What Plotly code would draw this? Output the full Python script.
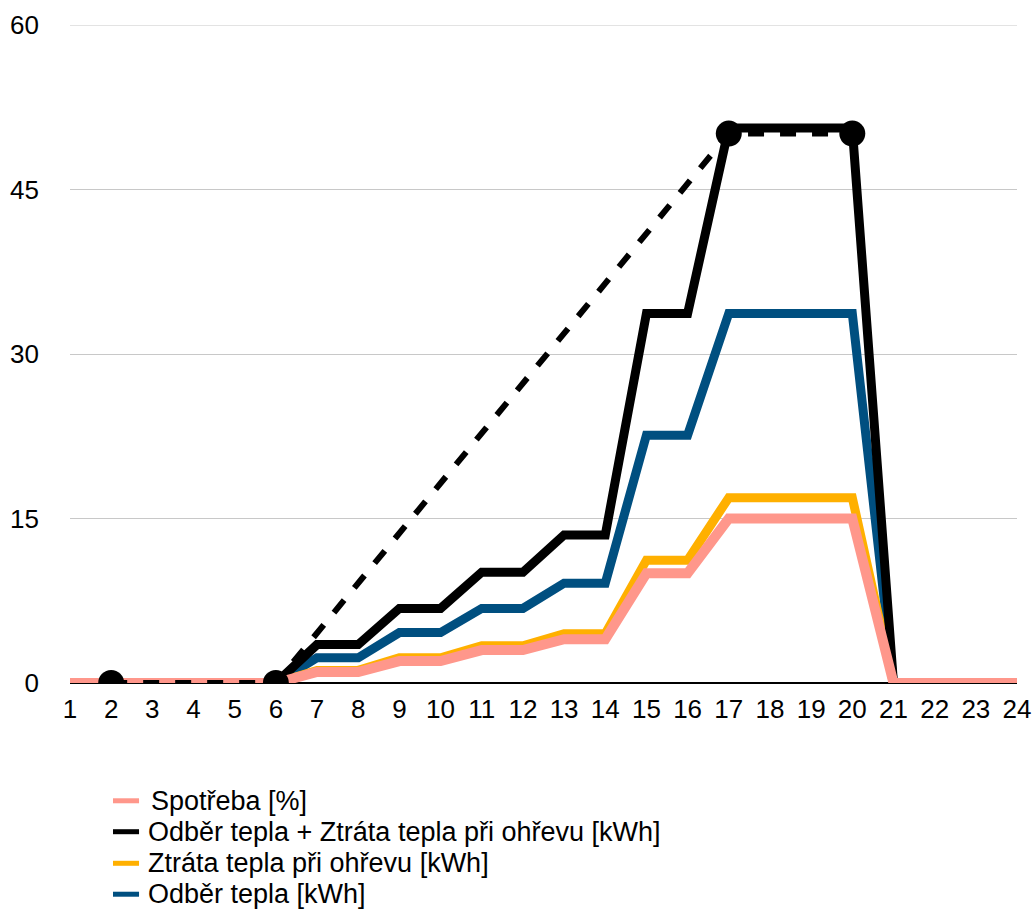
import plotly.graph_objects as go

hours = list(range(1, 25))
tick_labels = [str(h) for h in hours]

spotreba = [0, 0, 0, 0, 0, 0, 1, 1, 2, 2, 3, 3, 4, 4, 10, 10, 15, 15, 15, 15, 0, 0, 0, 0]
odber_plus_ztrata = [0, 0, 0, 0, 0, 0, 3.5, 3.5, 6.8, 6.8, 10.1, 10.1, 13.5, 13.5, 33.7, 33.7, 50.6, 50.6, 50.6, 50.6, 0, 0, 0, 0]
ztrata = [0, 0, 0, 0, 0, 0, 1.15, 1.15, 2.3, 2.3, 3.4, 3.4, 4.5, 4.5, 11.2, 11.2, 16.9, 16.9, 16.9, 16.9, 0, 0, 0, 0]
odber = [0, 0, 0, 0, 0, 0, 2.3, 2.3, 4.6, 4.6, 6.8, 6.8, 9.1, 9.1, 22.6, 22.6, 33.7, 33.7, 33.7, 33.7, 0, 0, 0, 0]

trend_x = [2, 6, 17, 20]
trend_y = [0, 0, 50.1, 50.1]

y_ticks = [0, 15, 30, 45, 60]

PINK = "#FF978B"
BLACK = "#000000"
ORANGE = "#FFB000"
BLUE = "#004F80"

series = [
    ("Odběr tepla [kWh]", odber, BLUE, 9),
    ("Ztráta tepla při ohřevu [kWh]", ztrata, ORANGE, 9),
    ("Odběr tepla + Ztráta tepla při ohřevu [kWh]", odber_plus_ztrata, BLACK, 9),
    ("Spotřeba [%]", spotreba, PINK, 10),
]
legend_order = ["Spotřeba [%]", "Odběr tepla + Ztráta tepla při ohřevu [kWh]",
                "Ztráta tepla při ohřevu [kWh]", "Odběr tepla [kWh]"]

fig = go.Figure()
for name, vals, color, w in series:
    fig.add_trace(go.Scatter(x=hours, y=vals, mode="lines", name=name, showlegend=False,
                             line=dict(color=color, width=w)))
fig.add_trace(go.Scatter(x=trend_x, y=trend_y, mode="lines+markers", showlegend=False,
                         line=dict(color=BLACK, width=6, dash="16px,16px"),
                         marker=dict(color=BLACK, size=26)))

# top gridline (at the range edge)
fig.add_shape(type="line", xref="paper", yref="y", x0=0, x1=1, y0=y_ticks[-1], y1=y_ticks[-1],
              line=dict(color="#C8C8C8", width=1), layer="below")

# Compact legend drawn below the plot (swatch + text per row)
colors = {n: c for n, _, c, _ in series}
row_y = [-0.179, -0.226, -0.274, -0.321]
text_x = [0.0834, 0.0802, 0.0802, 0.0802]
for i, name in enumerate(legend_order):
    fig.add_shape(type="line", xref="paper", yref="paper",
                  x0=0.0454, x1=0.0729, y0=row_y[i], y1=row_y[i],
                  line=dict(color=colors[name], width=5))
    fig.add_annotation(xref="paper", yref="paper", x=text_x[i], y=row_y[i],
                       xanchor="left", yanchor="middle", showarrow=False,
                       text=name, font=dict(size=27, color="black"))

fig.update_layout(
    width=1035, height=910,
    margin=dict(l=70, r=18, t=25, b=227, autoexpand=False),
    paper_bgcolor="white", plot_bgcolor="white",
    font=dict(family="Liberation Sans, Arial, sans-serif", size=26, color="black"),
    showlegend=False,
)
fig.update_xaxes(range=[1, 24], tickmode="array", tickvals=hours, ticktext=tick_labels,
                 showgrid=False, zeroline=False, showline=False, ticks="",
                 ticklabelstandoff=8, ticklabeloverflow="allow", tickfont=dict(size=26))
fig.update_yaxes(range=[0, 60], tickvals=y_ticks,
                 showgrid=True, gridcolor="#C8C8C8", gridwidth=1,
                 zeroline=True, zerolinecolor="black", zerolinewidth=2,
                 ticks="", ticklabelstandoff=30, tickfont=dict(size=26))

fig.write_html("out.html", config={"displayModeBar": False},
               post_script="document.body.style.margin='0';document.body.style.overflow='hidden';")
